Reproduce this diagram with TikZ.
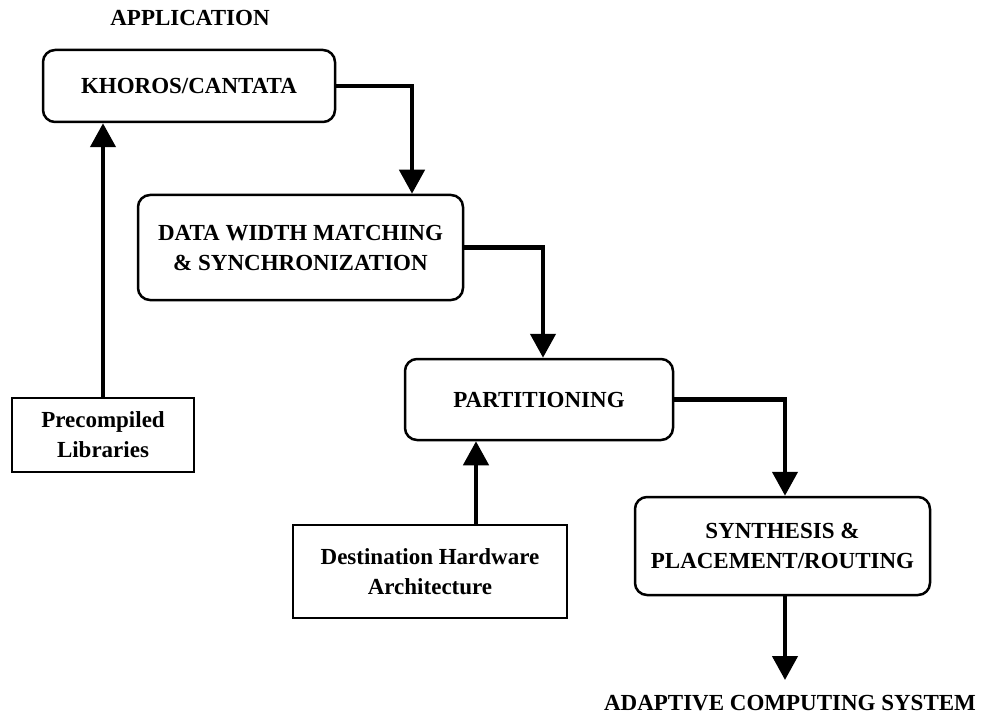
\documentclass[tikz,border=0pt]{standalone}
\usepackage{fontspec}
\setmainfont{Liberation Serif}
\usetikzlibrary{positioning, arrows.meta, calc}

\tikzset{
  procbox/.style={draw, line width=2.5pt, rounded corners=12pt, align=center, inner sep=0pt},
  srcbox/.style={draw, line width=1.8pt, align=center, inner sep=0pt},
  flow/.style={-{Triangle[length=24pt, width=25pt]}, line width=4.5pt},
}

\begin{document}
\begin{tikzpicture}[x=1pt, y=-1pt, font=\fontsize{23}{30}\selectfont\bfseries]
  \useasboundingbox (0,0) rectangle (990,719);
  \node (app) at (190,18) {APPLICATION};
  \node (khoros) [procbox, minimum width=292pt, minimum height=72pt] at (189,86) {KHOROS/CANTATA};
  \node (data) [procbox, minimum width=325pt, minimum height=105pt] at (300.5,247.5) {DATA WIDTH MATCHING\\\& SYNCHRONIZATION};
  \node (part) [procbox, minimum width=268pt, minimum height=81pt] at (539,399.5) {PARTITIONING};
  \node (synth) [procbox, minimum width=295pt, minimum height=98pt] at (782.5,546) {SYNTHESIS \&\\PLACEMENT/ROUTING};
  \node (libs) [srcbox, minimum width=182pt, minimum height=74pt] at (103,435) {Precompiled\\Libraries};
  \node (hw) [srcbox, minimum width=274pt, minimum height=93pt] at (430,571.5) {Destination Hardware\\Architecture};
  \node (acs) at (790,703) {ADAPTIVE COMPUTING SYSTEM};
  % turning points of the flow
  \coordinate (turn1) at (412,0);
  \coordinate (turn2) at (543,0);
  \coordinate (turn3) at (476,0);
  \coordinate (out) at (785,680);
  % main flow
  \draw[flow] (khoros.east) -| (turn1 |- data.north);
  \draw[flow] (data.east) -| (turn2 |- part.north);
  \draw[flow] (part.east) -| (out |- synth.north);
  \draw[flow] (out |- synth.south) -- (out);
  % inputs
  \draw[flow] (libs.north) -- (libs.north |- khoros.south);
  \draw[flow] (turn3 |- hw.north) -- (turn3 |- part.south);
\end{tikzpicture}
\end{document}
